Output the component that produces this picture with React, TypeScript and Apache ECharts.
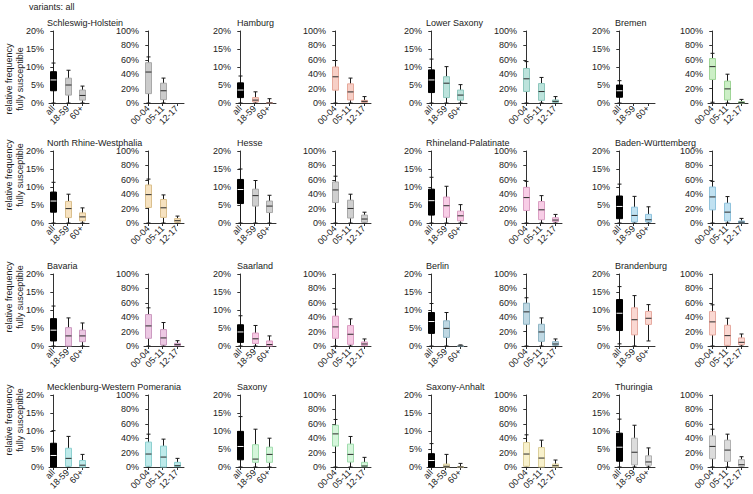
import React, { useEffect, useRef } from "react";
import * as echarts from "echarts";

// ---------------- data ----------------
const STATES = [
  "Schleswig-Holstein", "Hamburg", "Lower Saxony", "Bremen",
  "North Rhine-Westphalia", "Hesse", "Rhineland-Palatinate", "Baden-Württemberg",
  "Bavaria", "Saarland", "Berlin", "Brandenburg",
  "Mecklenburg-Western Pomerania", "Saxony", "Saxony-Anhalt", "Thuringia",
];
const ADULT_GROUPS = ["all", "18-59", "60+"];
const CHILD_GROUPS = ["00-04", "05-11", "12-17"];
const ADULT_MAX = 20;
const ADULT_STEP = 5;
const CHILD_MAX = 100;
const CHILD_STEP = 20;
const SUPTITLE = "variants: all";
const Y_NAME = "relative frequency\nfully susceptible";

// [min, q1, median, q3, max] in %
const ADULT_STATS = [
  [[0, 3.4, 6.4, 8.7, 11.1], [0, 2.2, 5.0, 6.9, 9.1], [0, 0.8, 2.1, 3.6, 4.7]],
  [[0, 1.5, 3.6, 5.6, 7.5], [0, 0.3, 0.8, 1.5, 3.1], [0, 0, 0, 0.1, 1.2]],
  [[0, 2.9, 6.4, 9.2, 12.2], [0, 1.5, 5.5, 7.3, 10.1], [0, 0.8, 2.2, 3.6, 5.1]],
  [[0, 1.6, 3.4, 5.0, 6.2], [0, 0, 0, 0, 0], [0, 0, 0, 0, 0]],
  [[0, 3.0, 6.1, 8.6, 11.3], [0, 1.5, 4.0, 6.0, 8.0], [0, 0.6, 1.7, 2.8, 4.2]],
  [[0, 5.4, 9.3, 12.1, 15.0], [0, 4.7, 7.6, 9.4, 11.8], [0, 2.9, 4.7, 6.1, 7.7]],
  [[0, 2.2, 6.2, 9.4, 12.7], [0, 1.6, 4.8, 7.2, 10.2], [0, 0.6, 2.0, 3.3, 5.1]],
  [[0, 1.2, 4.6, 7.5, 10.8], [0, 0.3, 2.1, 4.4, 7.4], [0, 0.3, 0.9, 2.4, 4.5]],
  [[0, 1.4, 4.4, 7.6, 11.1], [0, 0, 2.8, 5.1, 7.8], [0, 1.2, 2.8, 4.4, 6.4]],
  [[0, 1.0, 3.9, 5.9, 8.4], [0, 0.7, 2.0, 3.6, 5.7], [0, 0, 0.4, 1.4, 2.8]],
  [[0, 3.5, 6.8, 9.3, 11.8], [0, 2.4, 4.9, 7.0, 9.3], [0, 0, 0, 0, 0.3]],
  [[0.6, 4.3, 9.1, 12.9, 16.5], [0, 3.1, 7.3, 10.6, 14.0], [1.4, 6.0, 7.7, 9.6, 11.5]],
  [[0, 0, 3.2, 6.6, 10.1], [0, 0.2, 2.4, 5.2, 8.5], [0, 0, 0.5, 1.8, 3.5]],
  [[0, 2.0, 5.7, 9.9, 14.0], [0, 1.3, 2.2, 6.2, 10.5], [0, 1.3, 3.5, 5.5, 8.0]],
  [[0, 0, 1.8, 3.7, 6.5], [0, 0, 0.2, 0.8, 3.5], [0, 0, 0, 0.05, 1.0]],
  [[0, 1.6, 5.5, 9.4, 13.3], [0, 0.6, 4.1, 8.0, 11.6], [0, 0.5, 1.4, 3.1, 5.3]],
];
const CHILD_STATS = [
  [[0, 13, 43, 56, 64], [0, 4.7, 17, 27.5, 34.6], [0, 0, 0, 0, 0]],
  [[0, 17.8, 36.4, 50, 59], [0, 4.2, 15.4, 26.6, 34.6], [0, 0.9, 2.3, 3.7, 8.9]],
  [[0, 16, 33.6, 48, 57.5], [0, 3.7, 15.9, 27, 35.5], [0, 0.9, 2.3, 4.2, 8.9]],
  [[1, 32.7, 50.5, 61.7, 69], [0, 4.2, 19.6, 30.4, 40], [0, 0, 0.8, 1.8, 5]],
  [[0, 21.6, 39.4, 52.8, 61], [0, 7.8, 21.1, 32.6, 39], [0, 1, 3.2, 6, 9.6]],
  [[0, 28.4, 45.9, 57, 65], [0, 6.9, 20.2, 31.7, 40], [0, 1, 5.5, 11, 15]],
  [[0, 17.4, 35.3, 49.5, 57.8], [0, 4.6, 18.3, 29.8, 38], [0, 1.8, 4.1, 7.3, 11.9]],
  [[0, 18.3, 36.2, 50, 57.8], [0, 2.8, 15.1, 27.5, 36.7], [0, 0.3, 1.2, 2.8, 6.4]],
  [[0, 10.7, 27.9, 43.7, 53], [0, 1.4, 11.2, 22.8, 32.6], [0, 0.5, 1.9, 3.7, 7.4]],
  [[0, 10.7, 26.5, 41.4, 51.2], [0, 2.3, 16.3, 28.4, 37.7], [0, 0.5, 2.8, 5.6, 9.8]],
  [[0, 30.2, 47.4, 59.5, 67], [0, 6.5, 19.5, 30.2, 39], [0, 1, 2.8, 6, 9.8]],
  [[0, 15.3, 33.5, 48, 57.2], [0, 0.9, 14.4, 28.8, 38.6], [0, 1.9, 5.1, 11.2, 16.7]],
  [[0, 1, 18, 34.6, 45.6], [0, 0, 13.8, 29, 38.7], [0, 0.5, 1.8, 6.5, 12]],
  [[0, 29, 46, 58, 66], [0, 6.9, 17.5, 31.8, 42.4], [0, 0.5, 1.4, 6.5, 13.4]],
  [[0, 1, 18, 34, 44.7], [0, 0, 12.4, 27, 37.3], [0, 0, 1.8, 4.1, 9.7]],
  [[0, 11.5, 28.6, 43.3, 52.5], [0, 7.8, 23.5, 37.3, 45.6], [0, 1, 3.2, 10.1, 14.3]],
];

// ---------------- styles / layout ----------------
const BOX_FILL = [
  "#cbcbcb", "#f7cfc6", "#bce3dc", "#ccefc6",
  "#f6e2c0", "#cfcfcf", "#f8cde6", "#c0e1f1",
  "#ecc8e3", "#f6c9e3", "#bfd8e3", "#fad8d2",
  "#beeaea", "#d5f6db", "#f8f1cc", "#dcdcdc",
];
const BOX_EDGE = [
  "#a9a9a9", "#e6a99b", "#8ec7bd", "#9fd597",
  "#dbc08e", "#a9a9a9", "#dba0c4", "#90c3dd",
  "#cc9cc1", "#dc9ec3", "#90b6c5", "#e7aba1",
  "#8ed0d0", "#a1dcae", "#dccf9b", "#b1b1b1",
];
const FONT = "'Liberation Sans', Arial, Helvetica, sans-serif";
const TXT = "#222";
const AX = "#333";
const COL_LEFT = [49, 236, 427, 615];
const COL_RIGHT = [144, 331, 522, 708];
const COL_TITLE = [47, 237, 426, 615];
const ROW_TOP = [31, 151, 274, 395];
const ROW_YNAME = [79, 175, 297, 420];
const GRID_H = 72;
const GRID_W = 40;
const X_MIN = -0.3;
const X_MAX = 2.5;

function makeRender(fill: string, edge: string, firstBlack: boolean) {
  return (params: any, api: any) => {
    const x = api.value(0);
    const v = [api.value(1), api.value(2), api.value(3), api.value(4), api.value(5)];
    if (v[4] <= 0) return null;
    const black = firstBlack && x === 0;
    const c = api.coord([x, 0]);
    const cx = Math.round(c[0]) + 0.5;
    const ys = v.map((val: number) => api.coord([x, val])[1]);
    const hw = 3;
    const cap = 2;
    const wk = "#1a1a1a";
    const children: any[] = [
      { type: "line", shape: { x1: cx, y1: ys[4], x2: cx, y2: ys[3] }, style: { stroke: wk, lineWidth: 1 } },
      { type: "line", shape: { x1: cx, y1: ys[1], x2: cx, y2: ys[0] }, style: { stroke: wk, lineWidth: 1 } },
      { type: "line", shape: { x1: cx - cap, y1: ys[4], x2: cx + cap, y2: ys[4] }, style: { stroke: wk, lineWidth: 1 } },
      { type: "line", shape: { x1: cx - cap, y1: ys[0], x2: cx + cap, y2: ys[0] }, style: { stroke: wk, lineWidth: 1 } },
      {
        type: "rect",
        shape: { x: cx - hw, y: ys[3], width: hw * 2, height: Math.max(ys[1] - ys[3], 0.5) },
        style: { fill: black ? "#000" : fill, stroke: black ? "#000" : edge, lineWidth: 1 },
      },
      {
        type: "line",
        shape: { x1: cx - hw, y1: ys[2], x2: cx + hw, y2: ys[2] },
        style: { stroke: black ? "#fff" : "#2a2a2a", lineWidth: 1 },
      },
    ];
    return { type: "group", children };
  };
}

function buildOption() {
  const grid: any[] = [];
  const xAxis: any[] = [];
  const yAxis: any[] = [];
  const series: any[] = [];
  const graphic: any[] = [
    {
      type: "text", x: 29, y: 7,
      style: { text: SUPTITLE, fontSize: 9, fontFamily: FONT, fill: TXT, textVerticalAlign: "middle" },
    },
  ];
  STATES.forEach((name, s) => {
    const row = Math.floor(s / 4);
    const col = s % 4;
    const top = ROW_TOP[row];
    graphic.push({
      type: "text", x: COL_TITLE[col], y: top - 8,
      style: { text: name, fontSize: 9, fontFamily: FONT, fill: TXT, textVerticalAlign: "middle" },
    });
    if (col === 0) {
      graphic.push({
        type: "text", x: 14, y: ROW_YNAME[row], rotation: Math.PI / 2,
        style: {
          text: Y_NAME, fontSize: 9, fontFamily: FONT, fill: TXT,
          textAlign: "center", textVerticalAlign: "middle", lineHeight: 11,
        },
      });
    }
    [0, 1].forEach((p) => {
      const idx = grid.length;
      const left = p === 0 ? COL_LEFT[col] : COL_RIGHT[col];
      const groups = p === 0 ? ADULT_GROUPS : CHILD_GROUPS;
      const stats = p === 0 ? ADULT_STATS[s] : CHILD_STATS[s];
      grid.push({ left, top, width: GRID_W, height: GRID_H });
      xAxis.push({
        type: "value", gridIndex: idx, min: X_MIN, max: X_MAX,
        axisLine: { show: true, onZero: false, lineStyle: { color: AX, width: 1 } },
        axisTick: { show: true, length: 3, customValues: [0, 1, 2], lineStyle: { color: AX } },
        axisLabel: {
          show: true, customValues: [0, 1, 2], rotate: 45, margin: 4,
          fontSize: 9, fontFamily: FONT, color: TXT,
          formatter: (v: number) => groups[Math.round(v)] ?? "",
        },
        splitLine: { show: false },
      });
      const ymax = p === 0 ? ADULT_MAX : CHILD_MAX;
      const ystep = p === 0 ? ADULT_STEP : CHILD_STEP;
      yAxis.push({
        type: "value", gridIndex: idx, min: 0, max: ymax, interval: ystep,
        axisLine: { show: true, lineStyle: { color: AX, width: 1 } },
        axisTick: { show: true, length: 3, lineStyle: { color: AX } },
        axisLabel: { fontSize: 9, fontFamily: FONT, color: TXT, margin: 5, formatter: "{value}%" },
        splitLine: { show: false },
      });
      series.push({
        type: "custom", xAxisIndex: idx, yAxisIndex: idx, clip: false,
        renderItem: makeRender(BOX_FILL[s], BOX_EDGE[s], p === 0),
        encode: { x: 0, y: [1, 2, 3, 4, 5] },
        data: stats.map((st, i) => [i, ...st]),
      });
    });
  });
  return {
    animation: false,
    backgroundColor: "#fff",
    textStyle: { fontFamily: FONT },
    grid, xAxis, yAxis, series, graphic,
  };
}

export default function App() {
  const ref = useRef<HTMLDivElement>(null);
  useEffect(() => {
    if (!ref.current) return;
    const chart = echarts.init(ref.current, undefined, { renderer: "svg" });
    chart.setOption(buildOption() as any);
    return () => chart.dispose();
  }, []);
  return (
    <div
      ref={ref}
      style={{ position: "absolute", left: 0, top: 0, width: 753, height: 494, background: "#fff" }}
    />
  );
}
